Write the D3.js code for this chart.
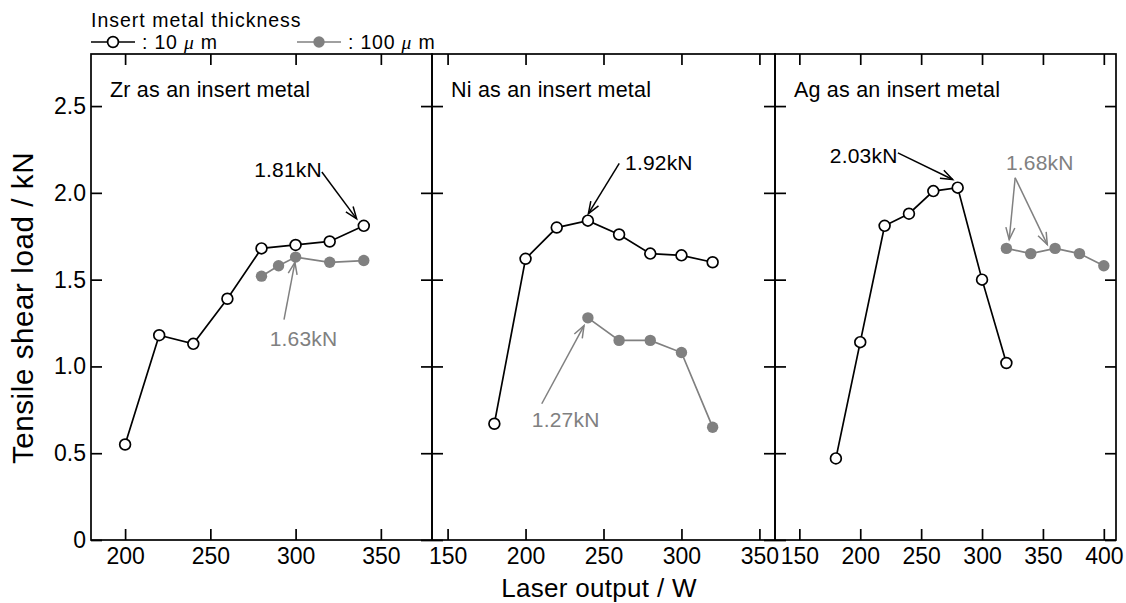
<!DOCTYPE html>
<html>
<head>
<meta charset="utf-8">
<script src="https://cdn.jsdelivr.net/npm/d3@7"></script>
<style>
  body { margin: 0; background: #fff; }
  svg { display: block; font-family: "Liberation Sans", Arial, sans-serif; }
</style>
</head>
<body>
<div id="chart"></div>
<script>
// data (laser output W, tensile shear load kN)
const laserZr10 = [200, 220, 240, 260, 280, 300, 320, 340];
const loadZr10 = [0.55, 1.18, 1.13, 1.39, 1.68, 1.70, 1.72, 1.81];
const laserZr100 = [280, 290, 300, 320, 340];
const loadZr100 = [1.52, 1.58, 1.63, 1.60, 1.61];

const laserNi10 = [180, 200, 220, 240, 260, 280, 300, 320];
const loadNi10 = [0.67, 1.62, 1.80, 1.84, 1.76, 1.65, 1.64, 1.60];
const laserNi100 = [240, 260, 280, 300, 320];
const loadNi100 = [1.28, 1.15, 1.15, 1.08, 0.65];

const laserAg10 = [180, 200, 220, 240, 260, 280, 300, 320];
const loadAg10 = [0.47, 1.14, 1.81, 1.88, 2.01, 2.03, 1.50, 1.02];
const laserAg100 = [320, 340, 360, 380, 400];
const loadAg100 = [1.68, 1.65, 1.68, 1.65, 1.58];

const panelTitles = ["Zr as an insert metal", "Ni as an insert metal", "Ag as an insert metal"];
const xDomains = [[180, 380], [140, 360], [130, 410]];
const xTicks = [[200, 250, 300, 350], [150, 200, 250, 300, 350], [150, 200, 250, 300, 350, 400]];
const yTicks = [0, 0.5, 1.0, 1.5, 2.0, 2.5];
const yTickLabels = ["0", "0.5", "1.0", "1.5", "2.0", "2.5"];
const legendLabels = ["10", "100"];

// callouts: label, series (0 = 10um, 1 = 100um), text pos, arrow start, arrow tips (data units)
const notesZr = [
  { text: "1.81kN", s: 0, at: [275.7, 2.09], from: [315.4, 2.12], to: [[335.8, 1.85]] },
  { text: "1.63kN", s: 1, at: [284.8, 1.12], from: [293.2, 1.27], to: [[299.6, 1.60]] }
];
const notesNi = [
  { text: "1.92kN", s: 0, at: [263.8, 2.13], from: [260.1, 2.17], to: [[240.3, 1.88]] },
  { text: "1.27kN", s: 1, at: [204.0, 0.65], from: [210.4, 0.785], to: [[237.5, 1.235]] }
];
const notesAg = [
  { text: "2.03kN", s: 0, at: [175.0, 2.17], from: [230.9, 2.23], to: [[275.9, 2.077]] },
  { text: "1.68kN", s: 1, at: [319.6, 2.13], from: [327.2, 2.087], to: [[322.3, 1.731], [353.6, 1.702]] }
];

const width = 1126, height = 603;
const plotTop = 54, plotBottom = 540;
const panelX = [91, 432, 775, 1116];
const tickLen = 11;
const black = "#000", grey = "#808080";
const seriesColor = [black, grey];

const panels = [
  { s10: [laserZr10, loadZr10], s100: [laserZr100, loadZr100], notes: notesZr },
  { s10: [laserNi10, loadNi10], s100: [laserNi100, loadNi100], notes: notesNi },
  { s10: [laserAg10, loadAg10], s100: [laserAg100, loadAg100], notes: notesAg }
];

const svg = d3.select("#chart").append("svg")
  .attr("width", width).attr("height", height);

const y = d3.scaleLinear().domain([0, 2.8]).range([plotBottom, plotTop]);

svg.append("defs").selectAll("marker")
  .data(seriesColor)
  .join("marker")
    .attr("id", (d, i) => "head" + i)
    .attr("markerUnits", "userSpaceOnUse")
    .attr("markerWidth", 30).attr("markerHeight", 30)
    .attr("viewBox", "-15 -15 30 30")
    .attr("refX", 0).attr("refY", 0)
    .attr("orient", "auto")
  .append("path")
    .attr("d", "M-12,-4.5L0,0L-12,4.5")
    .attr("fill", "none")
    .attr("stroke", d => d)
    .attr("stroke-width", 1.5);

panels.forEach((p, i) => {
  const x = d3.scaleLinear().domain(xDomains[i]).range([panelX[i], panelX[i + 1]]);
  const g = svg.append("g");

  // frame
  g.append("rect")
    .attr("x", panelX[i]).attr("y", plotTop)
    .attr("width", panelX[i + 1] - panelX[i]).attr("height", plotBottom - plotTop)
    .attr("fill", "none").attr("stroke", black).attr("stroke-width", 1.7);

  // x ticks, inward on bottom and top
  const xAxisB = d3.axisBottom(x).tickValues(xTicks[i]).tickSize(-tickLen).tickPadding(8);
  const gb = g.append("g").attr("transform", `translate(0,${plotBottom})`).call(xAxisB);
  gb.select(".domain").remove();
  gb.selectAll(".tick line").attr("stroke-width", 1.7);
  gb.selectAll(".tick text")
    .attr("font-size", 23).attr("fill", black)
    .attr("font-family", "Liberation Sans, Arial, sans-serif");

  const gt = g.append("g").attr("transform", `translate(0,${plotTop})`)
    .call(d3.axisTop(x).tickValues(xTicks[i]).tickSize(-tickLen).tickFormat(""));
  gt.select(".domain").remove();
  gt.selectAll(".tick line").attr("stroke-width", 1.7);

  // y ticks inward on both sides
  const gl = g.append("g").attr("transform", `translate(${panelX[i]},0)`)
    .call(d3.axisLeft(y).tickValues(yTicks).tickSize(-tickLen).tickPadding(5)
      .tickFormat((d, k) => i === 0 ? yTickLabels[k] : ""));
  gl.select(".domain").remove();
  gl.selectAll(".tick line").attr("stroke-width", 1.7);
  gl.selectAll(".tick text")
    .attr("font-size", 23).attr("fill", black)
    .attr("font-family", "Liberation Sans, Arial, sans-serif");

  const gr = g.append("g").attr("transform", `translate(${panelX[i + 1]},0)`)
    .call(d3.axisRight(y).tickValues(yTicks).tickSize(-tickLen).tickFormat(""));
  gr.select(".domain").remove();
  gr.selectAll(".tick line").attr("stroke-width", 1.7);

  // panel title
  g.append("text")
    .attr("x", panelX[i] + 19).attr("y", 97)
    .attr("font-size", 21.5).attr("letter-spacing", 0.2)
    .text(panelTitles[i]);

  // series
  const line = d3.line().x(d => x(d[0])).y(d => y(d[1]));
  [p.s10, p.s100].forEach((s, k) => {
    const pts = s[0].map((v, j) => [v, s[1][j]]);
    g.append("path").datum(pts)
      .attr("d", line)
      .attr("fill", "none")
      .attr("stroke", seriesColor[k])
      .attr("stroke-width", 1.7);
    g.selectAll(null).data(pts).join("circle")
      .attr("cx", d => x(d[0])).attr("cy", d => y(d[1]))
      .attr("r", k === 0 ? 5.4 : 5.7)
      .attr("fill", k === 0 ? "#fff" : grey)
      .attr("stroke", k === 0 ? black : "none")
      .attr("stroke-width", 1.7);
  });

  // callouts
  p.notes.forEach(n => {
    g.append("text")
      .attr("x", x(n.at[0])).attr("y", y(n.at[1]))
      .attr("font-size", 21).attr("letter-spacing", 0.2)
      .attr("fill", seriesColor[n.s])
      .text(n.text);
    n.to.forEach(t => {
      g.append("line")
        .attr("x1", x(n.from[0])).attr("y1", y(n.from[1]))
        .attr("x2", x(t[0])).attr("y2", y(t[1]))
        .attr("stroke", seriesColor[n.s]).attr("stroke-width", 1.5)
        .attr("marker-end", `url(#head${n.s})`);
    });
  });
});

// axis titles
svg.append("text")
  .attr("x", 599).attr("y", 597)
  .attr("text-anchor", "middle")
  .attr("font-size", 26).attr("letter-spacing", 0.3)
  .text("Laser output / W");

svg.append("text")
  .attr("transform", "translate(33,308) rotate(-90)")
  .attr("text-anchor", "middle")
  .attr("font-size", 29.5).attr("letter-spacing", 0.6)
  .text("Tensile shear load / kN");

// legend
svg.append("text")
  .attr("x", 91).attr("y", 27)
  .attr("font-size", 19.5).attr("letter-spacing", 1)
  .text("Insert metal thickness");

const legendX = [91, 297];
legendLabels.forEach((lab, k) => {
  const lg = svg.append("g").attr("transform", `translate(${legendX[k]},42)`);
  lg.append("line").attr("x1", 0).attr("x2", 44).attr("y1", 0).attr("y2", 0)
    .attr("stroke", seriesColor[k]).attr("stroke-width", 1.7);
  lg.append("circle").attr("cx", 22).attr("cy", 0)
    .attr("r", k === 0 ? 5.4 : 5.7)
    .attr("fill", k === 0 ? "#fff" : grey)
    .attr("stroke", k === 0 ? black : "none").attr("stroke-width", 1.7);
  const t = lg.append("text").attr("x", 51).attr("y", 7)
    .attr("font-size", 19.5).attr("letter-spacing", 0.8);
  t.append("tspan").text(": " + lab + " ");
  t.append("tspan").attr("font-family", "Liberation Serif, serif")
    .attr("font-style", "italic").text("μ");
  t.append("tspan").text(" m");
});
</script>
</body>
</html>
